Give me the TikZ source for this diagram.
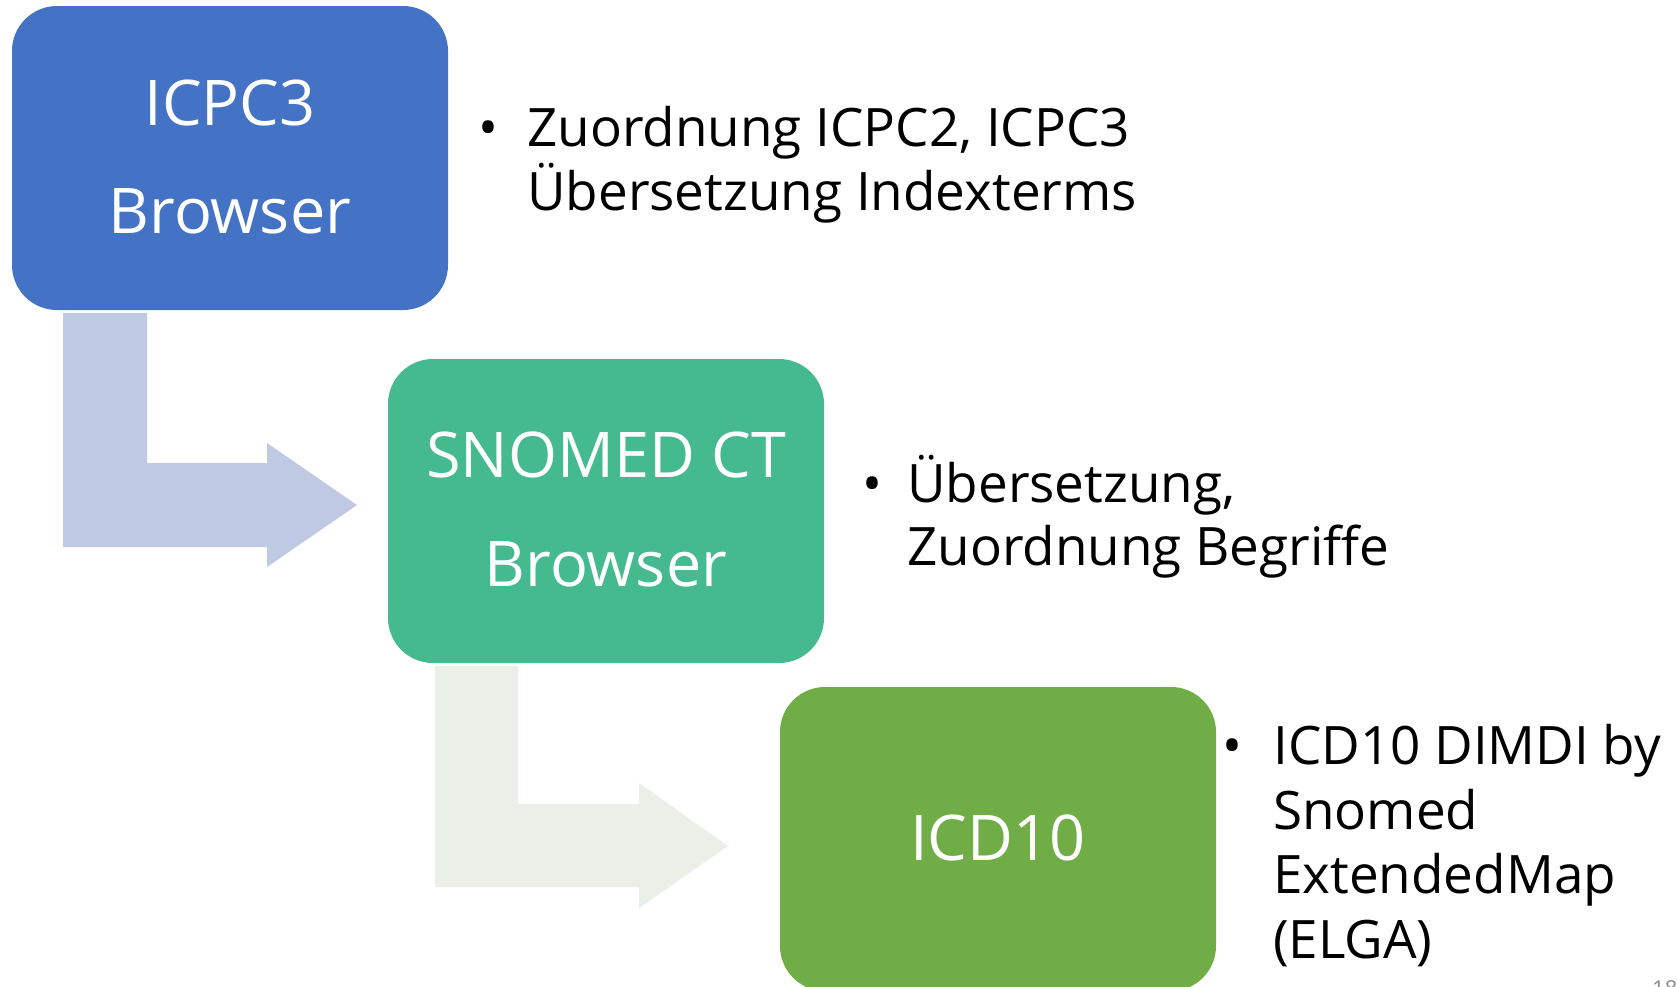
\documentclass[tikz,border=0pt]{standalone}
\usepackage{fontspec}
\setmainfont{Open Sans}
\definecolor{boxblue}{HTML}{4472C4}
\definecolor{boxteal}{HTML}{44BA8E}
\definecolor{boxgreen}{HTML}{70AD47}
\definecolor{arrowblue}{HTML}{BFC9E3}
\definecolor{arrowgreen}{HTML}{EAEFE8}
\definecolor{pagegray}{HTML}{8C8C8C}
\begin{document}
\begin{tikzpicture}[x=1pt,y=-1pt,
  box/.style={rounded corners=45pt, minimum width=436pt, minimum height=304pt, inner sep=0pt, draw=none},
  boxtext/.style={text=white, font=\fontsize{63}{63}\selectfont, anchor=base, inner sep=0pt},
  bullettext/.style={text=black, font=\fontsize{53}{53}\selectfont, anchor=base west, inner sep=0pt}]
\useasboundingbox (0,0) rectangle (1677,986);
\clip (0,0) rectangle (1677,986);
\fill[white] (0,0) rectangle (1677,986);
% bent arrows
\fill[arrowblue] (63,313) -- (147,313) -- (147,463) -- (267,463) -- (267,443) -- (357,505) -- (267,567) -- (267,547) -- (63,547) -- cycle;
\fill[arrowgreen] (435,666) -- (518,666) -- (518,804) -- (639,804) -- (639,783) -- (728,846) -- (639,908) -- (639,887) -- (435,887) -- cycle;
% boxes
\node[box, fill=boxblue] (b1) at (230,158) {};
\node[box, fill=boxteal] (b2) at (606,511) {};
\node[box, fill=boxgreen] (b3) at (998,839) {};
% box texts
\node[boxtext] (t1a) at (230,125) {ICPC3};
\node[boxtext] (t1b) at (230,233) {Browser};
\node[boxtext] (t2a) at (606,477) {SNOMED CT};
\node[boxtext] (t2b) at (606,586) {Browser};
\node[boxtext] (t3) at (998,860) {ICD10};
% bullet texts
\node[bullettext] (u1) at (478,146) {•};
\node[bullettext] (l1a) at (527,146) {Zuordnung ICPC2, ICPC3};
\node[bullettext] (l1b) at (527,210) {Übersetzung Indexterms};
\node[bullettext] (u2) at (862,502) {•};
\node[bullettext] (l2a) at (907,502) {Übersetzung,};
\node[bullettext] (l2b) at (907,565) {Zuordnung Begriffe};
\node[bullettext] (u3) at (1222,764) {•};
\node[bullettext] (l3a) at (1273,764) {ICD10 DIMDI by};
\node[bullettext] (l3b) at (1273,829) {Snomed};
\node[bullettext] (l3c) at (1273,893) {ExtendedMap};
\node[bullettext] (l3d) at (1273,958) {(ELGA)};
% page number (cut off)
\node[text=pagegray, font=\fontsize{22}{22}\selectfont, anchor=base west, inner sep=0pt] (pg) at (1652,996) {18};
\end{tikzpicture}
\end{document}
